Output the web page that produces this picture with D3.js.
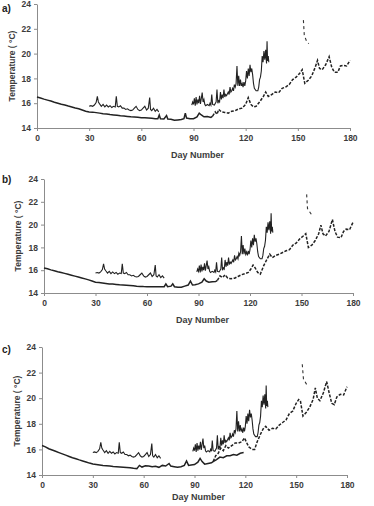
<!DOCTYPE html>
<html>
<head>
<meta charset="utf-8">
<script src="https://cdn.jsdelivr.net/npm/d3@7"></script>
<style>
  body { margin: 0; background: #fff; }
  svg { display: block; font-family: "Liberation Sans", Arial, sans-serif; }
  .tick text { font-size: 8.5px; font-weight: bold; fill: #3c3c3c; }
  .domain, .tick line { stroke: #8c8c8c; }
</style>
</head>
<body>
<div id="chart"></div>
<script>
// axis ticks
var xTicks = [0, 30, 60, 90, 120, 150, 180];
var yTicks = [14, 16, 18, 20, 22, 24];

// measured temperature (same record in every panel) [day, degC]
var measuredEarly = [
  [30, 15.75], [31, 15.8], [32, 15.75], [33, 15.85], [34, 16.05], [34.7, 16.55], [35.3, 16.1],
  [36, 15.95], [37, 15.75], [38, 15.9], [39, 15.7], [40, 15.85], [41, 15.7], [42, 15.8],
  [43, 15.65], [44, 15.75], [45, 15.7], [45.6, 16.55], [46.2, 15.75], [47, 15.7], [48, 15.8],
  [49, 15.6], [50, 15.6], [51, 15.5], [52, 15.55], [53, 15.45], [54, 15.4], [55, 15.45],
  [56, 15.6], [57, 15.75], [58, 15.5], [59, 15.4], [60, 15.45], [61, 15.6], [62, 15.75],
  [63, 15.45], [64, 15.6], [64.8, 16.45], [65.3, 15.5], [66, 15.4], [67, 15.6], [68, 15.35],
  [69, 15.5], [70, 15.3]
];
var measuredLate = [
  [89, 15.85], [89.5, 16.1], [90, 15.9], [90.5, 16.4], [91, 15.8], [91.5, 16.5], [92, 15.9],
  [92.5, 16.3], [93, 16.0], [93.5, 16.6], [94, 15.95], [94.5, 16.4], [95, 16.85], [95.5, 16.1],
  [96, 16.3], [96.5, 15.9], [97, 15.8], [98, 15.9], [99, 15.8], [99.5, 16.0], [100, 15.85],
  [100.5, 16.7], [101, 15.9], [102, 15.85], [103, 16.1], [103.5, 17.1], [104, 16.0], [104.5, 16.2],
  [105, 16.1], [105.5, 16.9], [106, 16.3], [106.5, 16.7], [107, 16.4], [107.5, 17.1], [108, 16.5],
  [108.5, 16.7], [109, 16.6], [110, 16.9], [110.5, 16.7], [111, 17.3], [111.5, 16.9], [112, 17.0],
  [112.5, 17.2], [113, 17.0], [113.5, 17.5], [114, 17.3], [114.5, 17.6], [115, 19.0], [115.5, 17.4],
  [116, 18.2], [116.5, 17.4], [117, 17.9], [117.5, 17.4], [118, 17.6], [118.5, 17.3], [119, 17.7],
  [119.5, 17.4], [120, 17.8], [120.5, 18.6], [121, 18.0], [121.5, 18.8], [122, 18.2], [122.5, 19.1],
  [123, 18.5], [123.5, 18.8], [124, 18.3], [124.5, 17.6], [125, 17.2], [126, 17.0], [127, 17.0],
  [127.5, 17.3], [128, 17.9], [128.5, 18.1], [129, 18.6], [129.5, 19.8], [130, 19.3], [130.5, 20.2],
  [131, 19.5], [131.5, 20.3], [132, 19.2], [132.3, 21.0], [132.6, 19.4], [133, 19.8], [133.3, 19.3]
];

// panel a) simulated
var solidA = [
  [0, 16.5], [2, 16.42], [4, 16.33], [6, 16.25], [8, 16.17], [10, 16.08], [12, 16.0], [14, 15.92],
  [16, 15.85], [18, 15.77], [20, 15.7], [22, 15.62], [24, 15.55], [26, 15.45], [28, 15.35],
  [30, 15.3], [32, 15.28], [34, 15.24], [36, 15.2], [38, 15.15], [40, 15.12], [42, 15.08],
  [44, 15.05], [46, 15.02], [48, 14.98], [50, 14.96], [52, 14.93], [54, 14.9], [56, 14.88],
  [58, 14.86], [60, 14.83], [62, 14.82], [64, 14.8], [66, 14.78], [68, 14.75], [69.5, 14.74],
  [70.3, 15.05], [71, 14.75], [73, 14.72], [74.5, 15.0], [75.2, 14.72], [77, 14.7], [79, 14.62],
  [81, 14.65], [83, 14.68], [84.5, 14.75], [85.3, 15.2], [86, 14.8], [88, 14.75], [90, 14.75],
  [92, 14.9], [93.3, 15.2], [94.5, 15.05], [96, 14.9], [98, 14.92], [100, 14.85], [101, 14.95]
];
var dashA = [
  [101, 14.95], [102.5, 15.3], [103.5, 15.1], [104.5, 15.5], [106, 15.3], [108, 15.25], [110, 15.2],
  [112, 15.35], [114, 15.4], [116, 15.55], [118, 15.6], [120, 15.9], [121.5, 16.45], [123, 15.9],
  [124.5, 15.7], [126, 15.75], [128, 16.1], [130, 16.5], [131.5, 16.9], [133, 16.55], [135, 16.7],
  [137, 16.9], [139, 16.85], [141, 17.2], [143, 17.3], [145, 17.5], [147, 17.9], [149, 18.1],
  [151, 18.4], [152.5, 18.7], [154, 17.6], [156, 17.85], [158, 18.2], [160, 18.9], [161.3, 19.45],
  [162.5, 18.8], [164, 18.7], [166, 19.1], [168, 19.75], [169.5, 18.9], [171, 18.5], [173, 18.5],
  [174.5, 19.0], [176, 19.05], [178, 19.0], [180, 19.45]
];
var spikeA = [[153.2, 22.7], [153.7, 21.5], [155, 21.0], [156.3, 20.8]];

// panel b) simulated
var solidB = [
  [0, 16.2], [2, 16.12], [4, 16.03], [6, 15.95], [8, 15.87], [10, 15.8], [12, 15.72], [14, 15.64],
  [16, 15.56], [18, 15.48], [20, 15.4], [22, 15.32], [24, 15.24], [26, 15.15], [28, 15.05],
  [30, 14.95], [32, 14.92], [34, 14.88], [36, 14.84], [38, 14.8], [40, 14.78], [42, 14.75],
  [44, 14.72], [46, 14.7], [48, 14.68], [50, 14.66], [52, 14.63], [54, 14.6], [56, 14.58],
  [58, 14.56], [60, 14.55], [62, 14.55], [64, 14.55], [66, 14.54], [68, 14.55], [70, 14.55],
  [71, 14.8], [72, 14.55], [74, 14.6], [75, 14.8], [76, 14.55], [78, 14.5], [80, 14.5], [82, 14.6],
  [84, 14.7], [85.3, 15.05], [86.5, 14.7], [88, 14.72], [90, 14.8], [92, 14.95], [93.3, 15.25],
  [94.5, 15.05], [96, 14.95], [98, 14.98], [100, 15.0], [101, 15.1]
];
var dashB = [
  [101, 15.1], [102.5, 15.5], [104, 15.35], [105.5, 15.6], [107, 15.3], [109, 15.25], [111, 15.3],
  [113, 15.45], [115, 15.6], [117, 15.7], [119, 15.8], [120.5, 16.1], [121.8, 16.45], [123, 16.2],
  [124.5, 15.8], [126, 15.65], [128, 16.4], [130, 17.0], [131.5, 17.4], [133, 17.1], [135, 17.3],
  [137, 17.4], [139, 17.55], [141, 17.7], [143, 17.8], [145, 18.2], [147, 18.4], [149, 18.75],
  [151, 19.0], [152.5, 19.2], [154, 18.0], [156, 18.2], [158, 18.6], [160, 19.2], [161.3, 19.95],
  [162.5, 19.2], [164, 19.0], [166, 19.4], [168, 20.45], [169.5, 19.4], [171, 18.9], [173, 18.85],
  [174.5, 19.4], [176, 19.6], [178, 19.55], [180, 20.2]
];
var spikeB = [[153.0, 22.65], [153.5, 21.4], [155.3, 21.0], [156.2, 20.8]];

// panel c) simulated
var solidC = [
  [0, 16.3], [2, 16.2], [4, 16.05], [6, 15.95], [8, 15.85], [10, 15.75], [12, 15.65], [14, 15.55],
  [16, 15.45], [18, 15.35], [20, 15.27], [22, 15.18], [24, 15.1], [26, 15.02], [28, 14.93],
  [30, 14.86], [32, 14.82], [34, 14.78], [36, 14.74], [38, 14.72], [40, 14.7], [42, 14.66],
  [44, 14.64], [46, 14.62], [48, 14.6], [50, 14.58], [52, 14.56], [54, 14.52], [56, 14.5],
  [57.5, 14.75], [59, 14.62], [61, 14.72], [63, 14.7], [65, 14.65], [67, 14.68], [69, 14.6],
  [71, 14.75], [73, 14.7], [75, 14.9], [76, 14.7], [78, 14.65], [80, 14.6], [82, 14.65],
  [84, 14.75], [85.3, 15.1], [86.5, 14.75], [88, 14.78], [90, 14.82], [92, 15.0], [93.3, 15.3],
  [94.5, 15.05], [96, 14.85], [98, 14.9], [100, 14.95], [101, 15.05], [103, 15.2], [105, 15.4],
  [107, 15.35], [109, 15.5], [111, 15.5], [113, 15.6], [115, 15.55], [117, 15.7], [119, 15.75]
];
var dashC = [
  [101, 15.05], [102.5, 15.5], [104, 15.7], [105.5, 16.1], [107, 15.9], [108.5, 16.3], [110, 16.1],
  [112, 16.3], [114, 16.5], [116, 16.5], [118, 16.6], [119.5, 16.9], [120.5, 16.6], [122, 16.2],
  [124, 16.0], [125.5, 16.0], [127, 16.6], [129, 17.2], [130.5, 17.6], [132, 17.8], [134, 17.5],
  [136, 17.65], [138, 17.6], [140, 17.9], [142, 18.1], [144, 18.3], [146, 18.8], [148, 19.0],
  [150, 19.6], [151.5, 19.9], [152.5, 19.8], [154, 18.6], [156, 18.9], [158, 19.3], [160, 19.9],
  [161.3, 20.8], [162.5, 20.0], [164, 19.8], [166, 20.4], [168, 21.3], [169.5, 20.4], [171, 19.6],
  [172.5, 19.5], [174, 20.1], [176, 20.3], [178, 20.25], [180, 20.9]
];
var spikeC = [[153.6, 22.65], [154.3, 21.5], [156.5, 21.0], [157, 20.9]];

var svg = d3.select('#chart').append('svg').attr('width', 374).attr('height', 506);

function panel(p) {
  var x = d3.scaleLinear().domain([0, 180]).range([p.left, p.right]);
  var y = d3.scaleLinear().domain([14, 24]).range([p.bottom, p.top]);
  var g = svg.append('g');

  g.append('g')
    .attr('transform', 'translate(0,' + p.bottom + ')')
    .call(d3.axisBottom(x).tickValues(xTicks).tickSize(3).tickSizeOuter(0).tickPadding(4));
  g.append('g')
    .attr('transform', 'translate(' + p.left + ',0)')
    .call(d3.axisLeft(y).tickValues(yTicks).tickSize(3).tickSizeOuter(0).tickPadding(3));

  var line = d3.line()
    .x(function (d) { return x(d[0]); })
    .y(function (d) { return y(d[1]); });

  // simulated: solid then broken
  g.append('path').attr('d', line(p.solid))
    .attr('fill', 'none').attr('stroke', '#222').attr('stroke-width', 1.5);
  g.append('path').attr('d', line(p.dash))
    .attr('fill', 'none').attr('stroke', '#222').attr('stroke-width', 1.5)
    .attr('stroke-dasharray', '3,1.5');
  g.append('path').attr('d', line(p.spike))
    .attr('fill', 'none').attr('stroke', '#333').attr('stroke-width', 1.1)
    .attr('stroke-dasharray', '3,3');

  // measured
  [measuredEarly, measuredLate].forEach(function (s) {
    g.append('path').attr('d', line(s))
      .attr('fill', 'none').attr('stroke', '#222').attr('stroke-width', 1.1);
  });

  g.append('text').attr('x', (p.left + p.right) / 2 + 4).attr('y', p.dayY)
    .attr('text-anchor', 'middle').style('font-size', '9px').style('font-weight', 'bold')
    .style('fill', '#3c3c3c').text('Day Number');
  g.append('text')
    .attr('transform', 'translate(' + p.ylx + ',' + (p.top + p.bottom) / 2 + ') rotate(-90)')
    .attr('text-anchor', 'middle').style('font-size', '8.5px').style('font-weight', 'bold')
    .style('fill', '#3c3c3c').text('Temperature ( °C)');
  g.append('text').attr('x', p.tagX).attr('y', p.tagY)
    .style('font-size', '10px').style('font-weight', 'bold').style('fill', '#222').text(p.tag);
}

panel({tag: 'a)', tagX: 2, tagY: 12, left: 37, right: 350, top: 4, bottom: 128, dayY: 158, ylx: 15,
  solid: solidA, dash: dashA, spike: spikeA});
panel({tag: 'b)', tagX: 2, tagY: 183, left: 44, right: 353, top: 179, bottom: 293, dayY: 323, ylx: 21,
  solid: solidB, dash: dashB, spike: spikeB});
panel({tag: 'c)', tagX: 2, tagY: 353, left: 42, right: 347, top: 347, bottom: 475, dayY: 500, ylx: 20,
  solid: solidC, dash: dashC, spike: spikeC});
</script>
</body>
</html>
